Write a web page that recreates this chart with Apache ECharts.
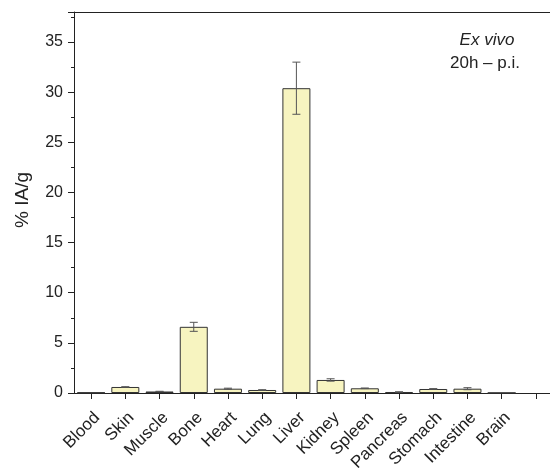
<!DOCTYPE html>
<html>
<head>
<meta charset="utf-8">
<script src="https://cdn.jsdelivr.net/npm/echarts@6/dist/echarts.min.js"></script>
<style>html,body{margin:0;padding:0;background:#fff}#c{width:550px;height:471px}</style>
</head>
<body>
<div id="c"></div>
<script>
const categories = ['Blood','Skin','Muscle','Bone','Heart','Lung','Liver','Kidney','Spleen','Pancreas','Stomach','Intestine','Brain',''];
const values = [0.05, 0.6, 0.15, 6.6, 0.43, 0.3, 30.4, 1.3, 0.47, 0.1, 0.4, 0.43, 0.02, null];
const errors = [0, 0.03, 0.02, 0.45, 0.05, 0.03, 2.6, 0.12, 0.03, 0.02, 0.04, 0.1, 0, null];
const yTicks = [0, 5, 10, 15, 20, 25, 30, 35];

const chart = echarts.init(document.getElementById('c'), null, {renderer: 'canvas'});
const font = 'Liberation Sans, Arial, sans-serif';
const errData = values.map((v, i) => v == null ? null : [i, v - errors[i], v + errors[i]]).filter(d => d && d[2] > d[1]);

chart.setOption({
  animation: false,
  backgroundColor: '#fff',
  grid: {left: 74, right: -3, top: 12, bottom: 78, containLabel: false, outerBoundsMode: 'none'},
  xAxis: [{
    type: 'category',
    data: categories,
    position: 'bottom',
    axisLine: {lineStyle: {color: '#222', width: 1}},
    axisTick: {show: true, alignWithLabel: true, length: 6, inside: false, lineStyle: {color: '#222'}},
    axisLabel: {rotate: 45, fontSize: 17, color: '#222', fontFamily: font, margin: 16, interval: 0,
      align: 'right', verticalAlign: 'top'},
    splitLine: {show: false}
  }, {
    type: 'category',
    data: categories,
    position: 'top',
    axisLine: {show: true, onZero: false, lineStyle: {color: '#222', width: 1}},
    axisTick: {show: false},
    axisLabel: {show: false}
  }],
  yAxis: {
    type: 'value',
    min: 0,
    max: 38,
    interval: 5,
    axisLine: {show: true, lineStyle: {color: '#222', width: 1}},
    axisTick: {show: true, length: 6, lineStyle: {color: '#222'}},
    minorTick: {show: true, splitNumber: 2, length: 3, lineStyle: {color: '#222'}},
    axisLabel: {fontSize: 16, color: '#222', fontFamily: font, margin: 11,
      formatter: v => yTicks.indexOf(v) >= 0 ? String(v) : ''},
    splitLine: {show: false}
  },
  graphic: [
    {type: 'text', x: 23, y: 200, rotation: Math.PI / 2,
      style: {text: '% IA/g', fontSize: 19, fontFamily: font, fill: '#222', textAlign: 'center', textVerticalAlign: 'middle'}},
    {type: 'text', x: 487, y: 40,
      style: {text: 'Ex vivo', fontSize: 17, fontStyle: 'italic', fontFamily: font, fill: '#222', textAlign: 'center', textVerticalAlign: 'middle'}},
    {type: 'text', x: 485, y: 63,
      style: {text: '20h \u2013 p.i.', fontSize: 17, fontFamily: font, fill: '#222', textAlign: 'center', textVerticalAlign: 'middle'}}
  ],
  series: [{
    type: 'bar',
    data: values,
    barWidth: 28,
    itemStyle: {color: '#F7F4C0', borderColor: '#333', borderWidth: 1}
  }, {
    type: 'custom',
    data: errData,
    z: 10,
    renderItem: function (params, api) {
      const x = api.value(0);
      const lo = api.coord([x, api.value(1)]);
      const hi = api.coord([x, api.value(2)]);
      const w = 4;
      const st = {stroke: '#555', lineWidth: 1};
      return {type: 'group', children: [
        {type: 'line', shape: {x1: lo[0], y1: lo[1], x2: hi[0], y2: hi[1]}, style: st},
        {type: 'line', shape: {x1: lo[0] - w, y1: lo[1], x2: lo[0] + w, y2: lo[1]}, style: st},
        {type: 'line', shape: {x1: hi[0] - w, y1: hi[1], x2: hi[0] + w, y2: hi[1]}, style: st}
      ]};
    }
  }]
});
</script>
</body>
</html>
